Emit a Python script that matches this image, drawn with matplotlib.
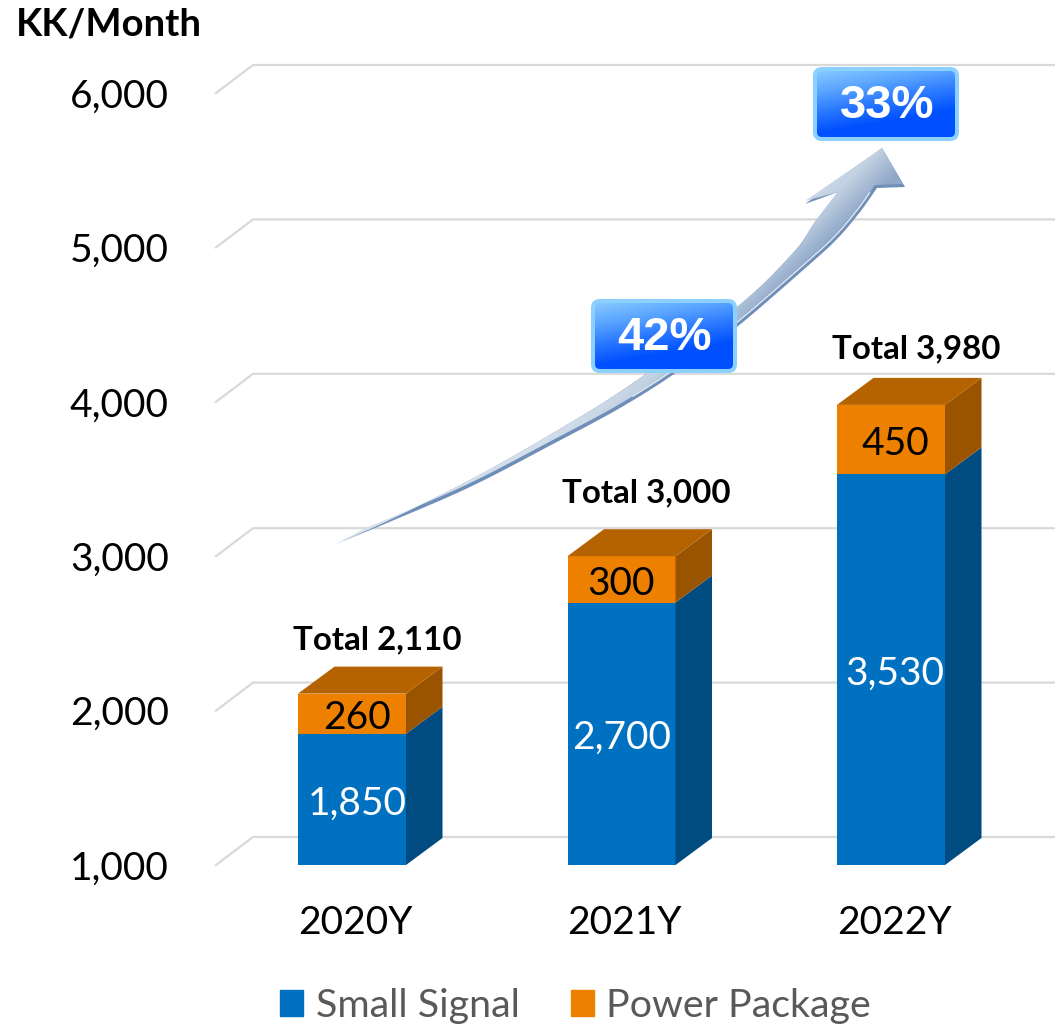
import numpy as np
import matplotlib
matplotlib.use('Agg')
import matplotlib.pyplot as plt
from matplotlib.colors import LinearSegmentedColormap
from matplotlib.patches import Polygon, FancyBboxPatch, Patch, PathPatch
from matplotlib.path import Path
from matplotlib.transforms import ScaledTranslation

plt.rcParams['font.family'] = ['Lato', 'DejaVu Sans']

W, H = 1055, 1025

years = ['2020Y', '2021Y', '2022Y']
small_signal = [1850, 2700, 3530]
power_package = [260, 300, 450]
totals = [2110, 3000, 3980]
y_ticks = [1000, 2000, 3000, 4000, 5000, 6000]
growth = ['42%', '33%']

BLUE = '#0070C0'
BLUE_SIDE = '#004C80'
ORANGE = '#EE8000'
ORANGE_TOP = '#B56200'
ORANGE_SIDE = '#9A5400'
GRID = '#D9D9D9'

# pixel layout of the plot area
left_px, right_px, base_px, top_px = 216, 1055, 865, 65
px_per_cat = 269.5
px_per_val = 0.1544
first_cat_px = 352


def smooth(points, n=12):
    # catmull-rom through the traced points so the arrow has no kinks
    p = np.array(points, dtype=float)
    p = np.vstack([2 * p[0] - p[1], p, 2 * p[-1] - p[-2]])
    out = []
    for i in range(1, len(p) - 2):
        for t in np.linspace(0, 1, n, endpoint=False):
            out.append(0.5 * (2 * p[i] + (p[i + 1] - p[i - 1]) * t
                              + (2 * p[i - 1] - 5 * p[i] + 4 * p[i + 1] - p[i + 2]) * t ** 2
                              + (3 * p[i] - p[i - 1] - 3 * p[i + 1] + p[i + 2]) * t ** 3))
    out.append(p[-2])
    return np.array(out)


fig = plt.figure(figsize=(W / 100, H / 100), dpi=100)
ax = fig.add_axes([left_px / W, (H - base_px) / H, (right_px - left_px) / W, (base_px - top_px) / H])
ax.set_xlim((left_px - first_cat_px) / px_per_cat, (right_px - first_cat_px) / px_per_cat)
ax.set_ylim(1000, 1000 + (base_px - top_px) / px_per_val)
for s in ax.spines.values():
    s.set_visible(False)
ax.patch.set_visible(False)

x = np.arange(len(years))
bar_w = 108 / px_per_cat
dx = 36.5 / px_per_cat
dy = 27 / px_per_val
grid_dx = 37 / px_per_cat
grid_dy = 28 / px_per_val

# floor lines: a short slanted bit, then the back wall line
x0 = ax.get_xlim()[0]
x1 = ax.get_xlim()[1]
for v in y_ticks:
    ax.plot([x0, x0 + grid_dx, x1], [v, v + grid_dy, v + grid_dy], color=GRID, lw=1.6, zorder=1, clip_on=False)

ax.bar(x, np.array(small_signal) - 1000, bar_w, bottom=1000, color=BLUE, zorder=3)
ax.bar(x, power_package, bar_w, bottom=small_signal, color=ORANGE, zorder=3)

for i in x:
    r = i + bar_w / 2
    l = i - bar_w / 2
    b = small_signal[i]
    t = totals[i]
    ax.add_patch(Polygon([(r, 1000), (r + dx, 1000 + dy), (r + dx, b + dy), (r, b)], color=BLUE_SIDE, lw=0, zorder=3))
    ax.add_patch(Polygon([(r, b), (r + dx, b + dy), (r + dx, t + dy), (r, t)], color=ORANGE_SIDE, lw=0, zorder=3))
    ax.add_patch(Polygon([(l, t), (l + dx, t + dy), (r + dx, t + dy), (r, t)], color=ORANGE_TOP, lw=0, zorder=3))

value_nudge = [5, 0, 4]
total_lift = [54, 63, 56]
for i in x:
    nudge = value_nudge[i] / px_per_cat
    ax.annotate(f'{small_signal[i]:,}', (i + nudge, (1000 + small_signal[i]) / 2), xytext=(0, -3),
                textcoords='offset points', color='white', fontsize=28,
                ha='center', va='center', zorder=4)
    ax.annotate(f'{power_package[i]:,}', (i + nudge, small_signal[i] + power_package[i] / 2), xytext=(0, -3),
                textcoords='offset points', color='black', fontsize=28,
                ha='center', va='center', zorder=4)
    ax.annotate(f'Total {totals[i]:,}', (i + 25 / px_per_cat, totals[i]), xytext=(0, total_lift[i] * 0.72),
                textcoords='offset points', ha='center', va='center', fontsize=23.8, fontweight='bold', zorder=4)

ax.set_xticks(x, years)
ax.set_yticks(y_ticks, [f'{v:,}' for v in y_ticks])
ax.tick_params(axis='both', length=0, labelsize=28)
ax.tick_params(axis='y', pad=34)
ax.tick_params(axis='x', pad=28.5)
shift = ScaledTranslation(3 / 100, 0, fig.dpi_scale_trans)
for lab in ax.get_xticklabels():
    lab.set_transform(lab.get_transform() + shift)

fig.text(16 / W, 1 - 24 / H, 'KK/Month', fontsize=27.5, fontweight='bold', ha='left', va='center')

leg = fig.legend(handles=[Patch(color=BLUE, label='Small Signal'), Patch(color=ORANGE, label='Power Package')],
                 ncol=2, loc='center', bbox_to_anchor=(575.5 / W, 1 - 1006 / H), frameon=False, fontsize=28.4,
                 labelcolor='#595959', handlelength=0.58, handleheight=0.61, handletextpad=0.31, columnspacing=1.3,
                 borderpad=0, borderaxespad=0)

# overlay in pixel coordinates for the growth arrow and the badges
over = fig.add_axes([0, 0, 1, 1], zorder=5)
over.set_xlim(0, W)
over.set_ylim(H, 0)
over.axis('off')

arrow_upper = smooth([(336, 544), (387, 521), (470, 480), (553, 433), (630, 385), (737, 307), (793, 253), (815, 222), (838, 192)])
arrow_head = [(805, 204), (882, 148), (905, 187), (877, 188)]
arrow_lower = smooth([(877, 188), (860, 212), (838, 238), (810, 264), (737, 327), (677, 372), (620, 408), (553, 444), (470, 487), (387, 523), (336, 544)])

outline = np.vstack([arrow_upper, arrow_head, arrow_lower])
over.add_patch(Polygon(outline, closed=True, color='#6F8FB8', lw=0, zorder=1))

inset = arrow_lower + np.array([-2, -3])
body = np.vstack([arrow_upper, [(805, 201), (882, 148), (903, 184), (875, 185)], inset[:-8]])
body_path = Path(np.vstack([body, body[:1]]), closed=True)
arrow_cmap = LinearSegmentedColormap.from_list('arrow', ['#D3DEEA', '#C2D2E3', '#8FA8C8'])
gx, gy = np.meshgrid(np.arange(330, 910), np.arange(145, 550))
shade = np.clip((gx + gy - 985) / 85, 0, 1)
im = over.imshow(shade, extent=(330, 910, 550, 145), cmap=arrow_cmap, vmin=0, vmax=1, aspect='auto', zorder=2)
im.set_clip_path(PathPatch(body_path, transform=over.transData))
over.plot(inset[4:70, 0], inset[4:70, 1], color='#E4EBF3', lw=0.9, zorder=3)

badge_cmap = LinearSegmentedColormap.from_list('badge', ['#86C8FF', '#5AA5FF', '#2A78FF', '#0050FF'])
badges = [(591, 299, growth[0]), (813, 67, growth[1])]
for bx, by, label in badges:
    w, h = 146, 74
    outer = FancyBboxPatch((bx + 8, by + 8), w - 16, h - 16, boxstyle='round,pad=8,rounding_size=9',
                           facecolor='#8CD0FF', edgecolor='none', zorder=6)
    over.add_patch(outer)
    inner = FancyBboxPatch((bx + 9, by + 9), w - 18, h - 18, boxstyle='round,pad=5,rounding_size=5',
                           facecolor='none', edgecolor='none', zorder=7)
    over.add_patch(inner)
    ix, iy = np.meshgrid(np.linspace(0, 1, 140), np.linspace(0, 1, 66))
    g = np.clip(0.38 * ix + 1.05 * iy, 0, 1)
    grad = over.imshow(g, extent=(bx + 4, bx + w - 4, by + h - 4, by + 4), cmap=badge_cmap, vmin=0, vmax=1,
                       aspect='auto', zorder=7)
    grad.set_clip_path(inner)
    over.text(bx + w / 2 + 1, by + h / 2 + 1.5, label, color='white', fontsize=34, fontweight='bold',
              family=['Liberation Sans', 'DejaVu Sans'], ha='center', va='center', zorder=8)

over.set_xlim(0, W)
over.set_ylim(H, 0)

fig.savefig('out.png', dpi=100)
